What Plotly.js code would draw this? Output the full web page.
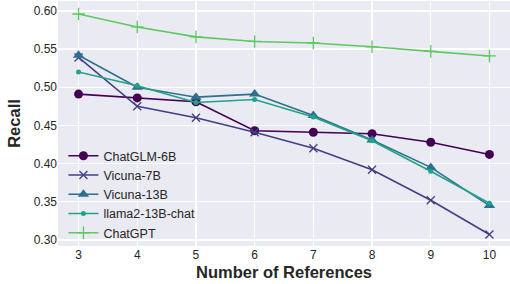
<!DOCTYPE html>
<html>
<head>
<meta charset="utf-8">
<script src="https://cdn.plot.ly/plotly-3.0.1.min.js"></script>
<style>html,body{margin:0;padding:0;background:#fff;}#chart{width:510px;height:284px;}</style>
</head>
<body>
<div id="chart"></div>
<script>
const refs = [3, 4, 5, 6, 7, 8, 9, 10];
const seriesNames = ["ChatGLM-6B", "Vicuna-7B", "Vicuna-13B", "llama2-13B-chat", "ChatGPT"];
const chatglm = [0.491, 0.486, 0.481, 0.443, 0.441, 0.439, 0.428, 0.412];
const vicuna7b = [0.539, 0.475, 0.460, 0.441, 0.420, 0.392, 0.352, 0.307];
const vicuna13b = [0.542, 0.500, 0.487, 0.491, 0.463, 0.431, 0.395, 0.345];
const llama2 = [0.520, 0.502, 0.480, 0.484, 0.461, 0.430, 0.390, 0.348];
const chatgpt = [0.596, 0.579, 0.566, 0.560, 0.558, 0.553, 0.547, 0.541];
const yTicks = [0.30, 0.35, 0.40, 0.45, 0.50, 0.55, 0.60];

const values = [chatglm, vicuna7b, vicuna13b, llama2, chatgpt];
const colors = ["#440154", "#423f85", "#2d6f8e", "#20a386", "#5ec962"];
const symbols = ["circle", "x-thin", "triangle-up", "circle", "cross-thin"];
const sizes = [9, 8, 10, 5, 9];

const traces = values.map((v, i) => ({
  x: refs, y: v, name: seriesNames[i], type: "scatter", mode: "lines+markers",
  line: {color: colors[i], width: 1.6},
  marker: {symbol: symbols[i], size: sizes[i], color: colors[i],
           line: {color: colors[i], width: (symbols[i].indexOf("thin") >= 0) ? 1.3 : 0}}
}));

const layout = {
  width: 510, height: 284,
  margin: {l: 58, r: 0, t: 1, b: 38},
  paper_bgcolor: "#ffffff", plot_bgcolor: "#eaeaf2",
  font: {family: "Liberation Sans, Arial, sans-serif", color: "#262626", size: 12},
  showlegend: true,
  legend: {x: 0.012, y: 0.428, xanchor: "left", yanchor: "top", bgcolor: "rgba(0,0,0,0)",
           font: {size: 12.5, color: "#262626"}, tracegroupgap: 0, itemwidth: 30},
  xaxis: {range: [2.65, 10.35], tickvals: refs, ticktext: refs.map(String),
          showgrid: true, gridcolor: "#ffffff", gridwidth: 1.3, zeroline: false, showline: false,
          ticks: "", tickfont: {size: 12}, ticklabelstandoff: 0,
          title: {text: "<b>Number of References</b>", font: {size: 16.5, color: "#262626"}, standoff: 5}},
  yaxis: {range: [0.292, 0.613], tickvals: yTicks, ticktext: yTicks.map(t => t.toFixed(2)),
          showgrid: true, gridcolor: "#ffffff", gridwidth: 1.3, zeroline: false, showline: false,
          ticks: "", tickfont: {size: 12},
          title: {text: "<b>Recall</b>", font: {size: 16.5, color: "#262626"}, standoff: 8}}
};
Plotly.newPlot("chart", traces, layout, {displayModeBar: false, staticPlot: true});
</script>
</body>
</html>
